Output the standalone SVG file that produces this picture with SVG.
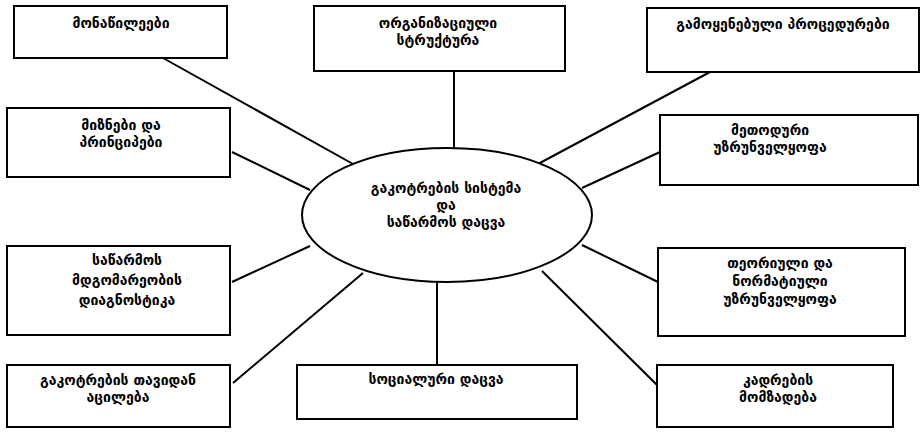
<svg xmlns="http://www.w3.org/2000/svg" width="924" height="433" viewBox="0 0 924 433">
<style>
.box{fill:#fff;stroke:#000;stroke-width:2}
.conn line{stroke:#000;stroke-width:2}
text{font-family:"DejaVu Sans","Noto Sans",sans-serif;font-size:14px;font-weight:bold;text-anchor:middle;fill:#000}
</style>
<rect width="924" height="433" fill="#fff"/>
<g id="connectors" class="conn">
<line x1="163" y1="58" x2="353" y2="164"/>
<line x1="232" y1="152" x2="310" y2="190"/>
<line x1="454" y1="71" x2="454" y2="148"/>
<line x1="710" y1="72" x2="538" y2="164"/>
<line x1="660" y1="152" x2="582" y2="188"/>
<line x1="232" y1="282" x2="310" y2="246"/>
<line x1="233" y1="383" x2="363" y2="273"/>
<line x1="437" y1="365" x2="437" y2="282"/>
<line x1="658" y1="282" x2="582" y2="245"/>
<line x1="657" y1="385" x2="542" y2="271"/>
</g>
<g id="center">
<ellipse cx="447" cy="215" rx="145" ry="67" class="box"/>
<text x="446" y="193">გაკოტრების სისტემა</text>
<text x="446" y="210">და</text>
<text x="446" y="227">საწარმოს დაცვა</text>
</g>
<g id="n1">
<rect x="14" y="6" width="213" height="52" class="box"/>
<text x="121" y="28">მონაწილეები</text>
</g>
<g id="n2">
<rect x="7" y="108" width="223" height="69" class="box"/>
<text x="121" y="130">მიზნები და</text>
<text x="121" y="147">პრინციპები</text>
</g>
<g id="n3">
<rect x="314" y="6" width="251" height="65" class="box"/>
<text x="438" y="28">ორგანიზაციული</text>
<text x="438" y="45">სტრუქტურა</text>
</g>
<g id="n4">
<rect x="647" y="8" width="272" height="64" class="box"/>
<text x="783" y="29">გამოყენებული პროცედურები</text>
</g>
<g id="n5">
<rect x="660" y="115" width="258" height="70" class="box"/>
<text x="770" y="135">მეთოდური</text>
<text x="770" y="152">უზრუნველყოფა</text>
</g>
<g id="n6">
<rect x="7" y="246" width="223" height="89" class="box"/>
<text x="127" y="265">საწარმოს</text>
<text x="127" y="285">მდგომარეობის</text>
<text x="127" y="305">დიაგნოსტიკა</text>
</g>
<g id="n7">
<rect x="658" y="248" width="247" height="88" class="box"/>
<text x="780" y="268">თეორიული და</text>
<text x="780" y="286">ნორმატიული</text>
<text x="780" y="304">უზრუნველყოფა</text>
</g>
<g id="n8">
<rect x="7" y="365" width="223" height="62" class="box"/>
<text x="118" y="385">გაკოტრების თავიდან</text>
<text x="118" y="402">აცილება</text>
</g>
<g id="n9">
<rect x="297" y="365" width="280" height="54" class="box"/>
<text x="436" y="384">სოციალური დაცვა</text>
</g>
<g id="n10">
<rect x="657" y="365" width="236" height="62" class="box"/>
<text x="778" y="385">კადრების</text>
<text x="778" y="402">მომზადება</text>
</g>
</svg>
